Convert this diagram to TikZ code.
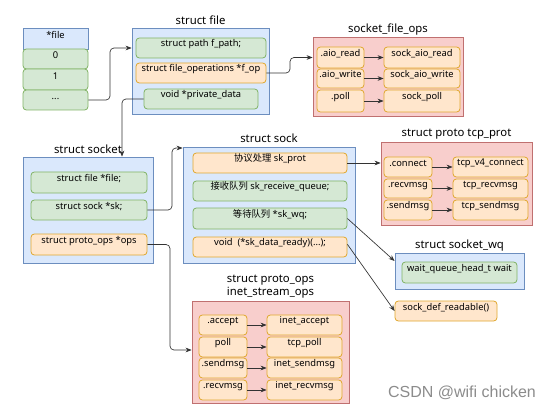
\documentclass[tikz,border=0pt]{standalone}
\usepackage{fontspec}
\setmainfont{Noto Sans}
\newfontfamily\cjk{Noto Sans CJK SC}
\newfontfamily\wmfont{Liberation Sans}
\usetikzlibrary{fit,calc,arrows.meta}
\definecolor{bF}{HTML}{DAE8FC}\definecolor{bS}{HTML}{6C8EBF}
\definecolor{gF}{HTML}{D5E8D4}\definecolor{gS}{HTML}{82B366}
\definecolor{oF}{HTML}{FFE6CC}\definecolor{oS}{HTML}{E0A830}
\definecolor{rF}{HTML}{F8CECC}\definecolor{rS}{HTML}{C07070}
\tikzset{
  base/.style={inner sep=0pt, line width=0.6pt, font=\fontsize{7}{8.5}\selectfont},
  gbox/.style={base, draw=gS, fill=gF, rounded corners=2.5pt},
  obox/.style={base, draw=oS, fill=oF, rounded corners=2.5pt},
  bcont/.style={base, draw=bS, fill=bF},
  rcont/.style={base, draw=rS, fill=rF},
  ttl/.style={inner sep=0pt, font=\fontsize{8.5}{10}\selectfont, align=center},
  arr/.style={-{Stealth[length=4.5pt,width=3.5pt]}, draw=black!80, line width=0.5pt, rounded corners=3pt},
}
\begin{document}
\begin{tikzpicture}[x=0.75pt,y=-0.75pt]
\useasboundingbox (0,0) rectangle (554,410);
\fill[white] (0,0) rectangle (554,410);

% *file table
\node[bcont, fit={(23,28) (88,49)}] (fhead) {*file};
\node[gbox, fit={(23,49) (88,69)}] (f0) {0};
\node[gbox, fit={(23,69) (88,90)}] (f1) {1};
\node[gbox, fit={(23,90) (88,110)}] (fdots) {...};

% struct file
\node[bcont, fit={(132,28) (269,114)}] (sfile) {};
\node[ttl] at ($(sfile.north)+(0,-7)$) {struct file};
\node[gbox, fit={(136,38) (266,58)}] (fpath) {struct path f\_path;};
\node[obox, fit={(136,63) (266,83)}] (fop) {struct file\_operations *f\_op};
\node[gbox, fit={(144,89) (258,109)}] (priv) {void *private\_data};

% socket_file_ops
\node[rcont, fit={(313,37) (463,116)}] (sfo) {};
\node[ttl] at ($(sfo.north)+(0,-7)$) {socket\_file\_ops};
\node[obox, fit={(317,47) (364,68)}] (aior) {.aio\_read};
\node[obox, fit={(317,69) (364,88)}] (aiow) {.aio\_write};
\node[obox, fit={(317,90) (364,112)}] (fpoll) {.poll};
\node[obox, fit={(384,47) (460,68)}] (saior) {sock\_aio\_read};
\node[obox, fit={(384,69) (460,88)}] (saiow) {sock\_aio\_write};
\node[obox, fit={(384,90) (460,112)}] (spoll) {sock\_poll};

% struct socket
\node[bcont, fit={(23,157) (153,263)}] (socket) {};
\node[ttl] at ($(socket.north)+(0,-7)$) {struct socket};
\node[gbox, fit={(31,172) (147,193)}] (sfilep) {struct file *file;};
\node[gbox, fit={(31,200) (147,220)}] (sk) {struct sock *sk;};
\node[obox, fit={(31,234) (147,255)}] (ops) {struct proto\_ops *ops};

% struct sock
\node[bcont, fit={(183,147) (355,263)}] (sock) {};
\node[ttl] at ($(sock.north)+(0,-8)$) {struct sock};
\node[obox, fit={(193,153) (347,173)}] (skprot) {{\cjk 协议处理} sk\_prot};
\node[gbox, fit={(193,181) (347,201)}] (recvq) {{\cjk 接收队列} sk\_receive\_queue;};
\node[gbox, fit={(193,208) (347,229)}] (skwq) {{\cjk 等待队列} *sk\_wq;};
\node[obox, fit={(193,237) (347,257)}] (ready) {void~~(*sk\_data\_ready)(...);};

% struct proto tcp_prot
\node[rcont, fit={(381,142) (532,225)}] (tcpprot) {};
\node[ttl] at ($(tcpprot.north)+(0,-7)$) {struct proto tcp\_prot};
\node[obox, fit={(384,157) (432,177)}] (conn) {.connect};
\node[obox, fit={(384,179) (432,198)}] (recv) {.recvmsg};
\node[obox, fit={(384,200) (432,220)}] (send) {.sendmsg};
\node[obox, fit={(453,157) (528,177)}] (tconn) {tcp\_v4\_connect};
\node[obox, fit={(453,179) (528,198)}] (trecv) {tcp\_recvmsg};
\node[obox, fit={(453,200) (528,220)}] (tsend) {tcp\_sendmsg};

% struct socket_wq
\node[bcont, fit={(395,253) (524,289)}] (wq) {};
\node[ttl] at ($(wq.north)+(0,-7)$) {struct socket\_wq};
\node[gbox, fit={(402,262) (517,283)}] (wait) {wait\_queue\_head\_t wait};

% sock_def_readable
\node[obox, fit={(395,301) (497,321)}] (readable) {sock\_def\_readable()};

% inet_stream_ops
\node[rcont, fit={(192,301) (349,403)}] (iso) {};
\node[ttl] at ($(iso.north)+(0,-14)$) {struct proto\_ops\\[0pt]inet\_stream\_ops};
\node[obox, fit={(199,315) (247,335)}] (acc) {.accept};
\node[obox, fit={(199,337) (247,357)}] (ipoll) {poll};
\node[obox, fit={(199,358) (247,378)}] (isend) {.sendmsg};
\node[obox, fit={(199,380) (247,400)}] (irecv) {.recvmsg};
\node[obox, fit={(267,315) (342,335)}] (iacc) {inet\_accept};
\node[obox, fit={(267,337) (342,357)}] (tpoll) {tcp\_poll};
\node[obox, fit={(267,358) (342,378)}] (isendm) {inet\_sendmsg};
\node[obox, fit={(267,380) (342,400)}] (irecvm) {inet\_recvmsg};

% bend coordinates
\coordinate (b1) at (110,0);
\coordinate (b2) at (290,0);
\coordinate (b3) at (122,0);
\coordinate (b4) at (172,148);
\coordinate (b5) at (170,350);

% connectors
\draw[arr] (fdots.east) -| (b1 |- fpath.center) -- (sfile.west |- fpath.center);
\draw[arr] (fop.east) -| (b2 |- aior.center) -- (sfo.west |- aior.center);
\draw[arr] (priv.west) -| (socket.north -| b3);
\draw[arr] (sk.east) -| (b4) -- (sock.west |- b4);
\draw[arr] (ops.east) -| (b5) -- (iso.west |- b5);
\draw[arr] (skprot.east) -- (tcpprot.west |- skprot.center);
\draw[arr] (skwq.east) -- ([yshift=7.5pt]wq.west);
\draw[arr] ([yshift=2pt]ready.east) -- (readable.west);

\foreach \a/\b in {aior/saior, aiow/saiow, fpoll/spoll, conn/tconn, recv/trecv, send/tsend, acc/iacc, ipoll/tpoll, isend/isendm, irecv/irecvm}
  \draw[arr] (\a.east) -- (\b.west);

% watermark
\node[font=\wmfont\fontsize{12}{14}\selectfont, text=black!45, inner sep=0pt] (wm) at (462,393) {CSDN @wifi chicken};
\end{tikzpicture}
\end{document}
